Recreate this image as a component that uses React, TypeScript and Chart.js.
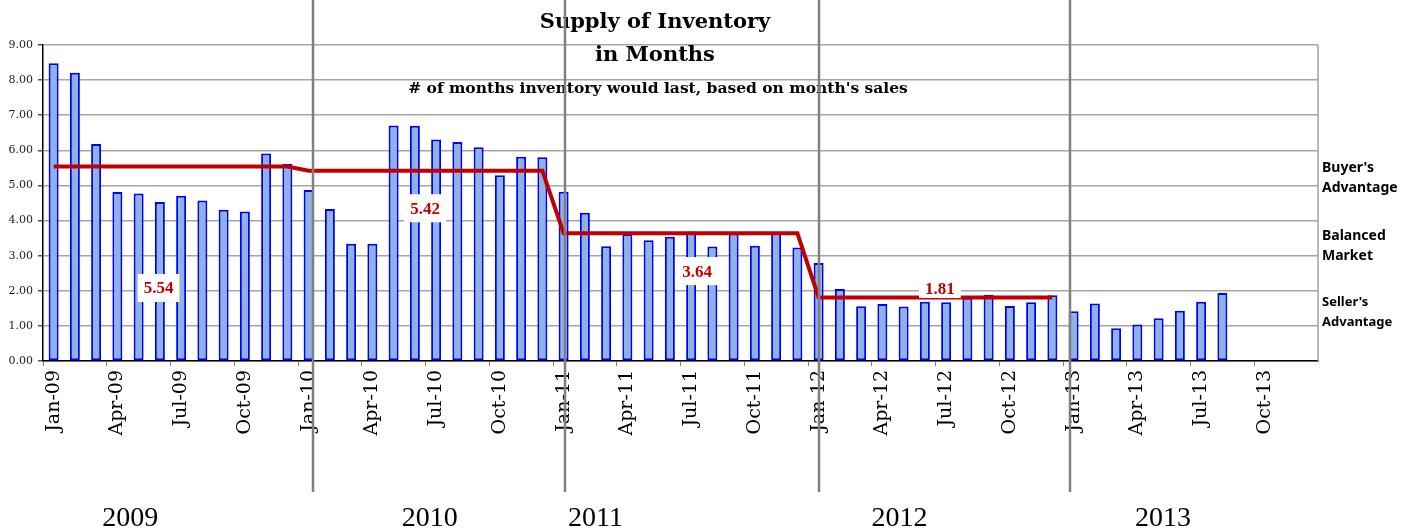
import React, { useEffect, useRef } from 'react';
import { Chart, registerables } from 'chart.js';

Chart.register(...registerables);

// ---------- data ----------
const categories = [
  'Jan-09', 'Feb-09', 'Mar-09', 'Apr-09', 'May-09', 'Jun-09', 'Jul-09', 'Aug-09', 'Sep-09', 'Oct-09', 'Nov-09', 'Dec-09',
  'Jan-10', 'Feb-10', 'Mar-10', 'Apr-10', 'May-10', 'Jun-10', 'Jul-10', 'Aug-10', 'Sep-10', 'Oct-10', 'Nov-10', 'Dec-10',
  'Jan-11', 'Feb-11', 'Mar-11', 'Apr-11', 'May-11', 'Jun-11', 'Jul-11', 'Aug-11', 'Sep-11', 'Oct-11', 'Nov-11', 'Dec-11',
  'Jan-12', 'Feb-12', 'Mar-12', 'Apr-12', 'May-12', 'Jun-12', 'Jul-12', 'Aug-12', 'Sep-12', 'Oct-12', 'Nov-12', 'Dec-12',
  'Jan-13', 'Feb-13', 'Mar-13', 'Apr-13', 'May-13', 'Jun-13', 'Jul-13', 'Aug-13', 'Sep-13', 'Oct-13', 'Nov-13', 'Dec-13',
];

const monthsOfInventory: (number | null)[] = [
  8.48, 8.21, 6.18, 4.81, 4.77, 4.53, 4.71, 4.57, 4.31, 4.26, 5.91, 5.61,
  4.87, 4.33, 3.34, 3.34, 6.71, 6.70, 6.31, 6.24, 6.09, 5.29, 5.82, 5.80,
  4.82, 4.22, 3.27, 3.62, 3.44, 3.54, 3.69, 3.26, 3.63, 3.28, 3.64, 3.23,
  2.79, 2.05, 1.56, 1.62, 1.55, 1.69, 1.67, 1.80, 1.89, 1.57, 1.67, 1.87,
  1.42, 1.64, 0.93, 1.04, 1.22, 1.43, 1.69, 1.94, null, null, null, null,
];

const yearlyAverage: (number | null)[] = [
  5.54, 5.54, 5.54, 5.54, 5.54, 5.54, 5.54, 5.54, 5.54, 5.54, 5.54, 5.54,
  5.42, 5.42, 5.42, 5.42, 5.42, 5.42, 5.42, 5.42, 5.42, 5.42, 5.42, 5.42,
  3.64, 3.64, 3.64, 3.64, 3.64, 3.64, 3.64, 3.64, 3.64, 3.64, 3.64, 3.64,
  1.81, 1.81, 1.81, 1.81, 1.81, 1.81, 1.81, 1.81, 1.81, 1.81, 1.81, 1.81,
  null, null, null, null, null, null, null, null, null, null, null, null,
];

const averageValues = [5.54, 5.42, 3.64, 1.81];
// where each average label sits (category position, value level)
const averageLabelAt = [4.94, 17.48, 30.28, 41.71];
const averageLabelLevel = [2.08, 4.35, 2.56, 2.05];
const averageLabelBoxH = [28, 28, 28, 18];

const yearNames = ['2009', '2010', '2011', '2012', '2013'];
const yearNameAt = [3.6, 17.7, 25.5, 39.8, 52.2];
const yearDividerAt = [12.2, 24.05, 36.0, 47.85];

const sideNotes = [
  { lines: ["Buyer's", 'Advantage'], level: 5.39, size: 14 },
  { lines: ['Balanced', 'Market'], level: 3.45, size: 14 },
  { lines: ["Seller's", 'Advantage'], level: 1.56, size: 13 },
];

const titleLines = ['Supply of Inventory', 'in Months'];
const subtitle = "# of months inventory would last, based on month's sales";

const W = 1416;
const H = 529;

const decorPlugin = {
  id: 'sheetDecor',
  afterDatasetsDraw(chart: any) {
    const { ctx, scales } = chart;
    const x = scales.x;
    const y = scales.y;
    ctx.save();
    ctx.font = 'bold 17px "Liberation Serif", serif';
    ctx.textAlign = 'center';
    ctx.textBaseline = 'middle';
    averageValues.forEach((v, i) => {
      const px = x.getPixelForValue(averageLabelAt[i]);
      const py = y.getPixelForValue(averageLabelLevel[i]);
      const txt = v.toFixed(2);
      const tw = ctx.measureText(txt).width;
      const bw = tw + 12;
      const bh = averageLabelBoxH[i];
      ctx.fillStyle = '#ffffff';
      ctx.fillRect(px - bw / 2, py - bh / 2, bw, bh);
      ctx.fillStyle = '#C00000';
      ctx.fillText(txt, px, py + 1);
    });
    ctx.restore();
  },
  afterDraw(chart: any) {
    const { ctx, chartArea, scales } = chart;
    const x = scales.x;
    const y = scales.y;
    ctx.save();

    // right plot border
    ctx.strokeStyle = '#a0a0a0';
    ctx.lineWidth = 1.5;
    ctx.beginPath();
    ctx.moveTo(chartArea.right, chartArea.top);
    ctx.lineTo(chartArea.right, chartArea.bottom);
    ctx.stroke();

    // titles (centred over the middle of the 2010/2011 span)
    const cx = x.getPixelForValue(28.3);
    ctx.fillStyle = '#000';
    ctx.textAlign = 'center';
    ctx.textBaseline = 'alphabetic';
    ctx.font = 'bold 21px "DejaVu Serif", serif';
    ctx.fillText(titleLines[0], cx, 28);
    ctx.fillText(titleLines[1], cx, 61);
    ctx.font = 'bold 15.5px "DejaVu Serif", serif';
    ctx.fillText(subtitle, cx + 3, 93);

    // side notes
    ctx.textAlign = 'left';
    sideNotes.forEach((n) => {
      ctx.font = `bold ${n.size}px "Noto Sans", sans-serif`;
      const py = y.getPixelForValue(n.level);
      n.lines.forEach((l, j) => {
        ctx.fillText(l, chartArea.right + 4, py + j * 20);
      });
    });

    // year labels
    ctx.textAlign = 'center';
    ctx.font = '28px "Liberation Serif", serif';
    yearNames.forEach((name, i) => {
      ctx.fillText(name, x.getPixelForValue(yearNameAt[i]), 526);
    });

    // year dividers
    ctx.strokeStyle = '#808080';
    ctx.lineWidth = 2.5;
    yearDividerAt.forEach((p) => {
      const px = Math.round(x.getPixelForValue(p));
      ctx.beginPath();
      ctx.moveTo(px, 0);
      ctx.lineTo(px, 492);
      ctx.stroke();
    });
    ctx.restore();
  },
};

export default function App() {
  const canvasRef = useRef<HTMLCanvasElement | null>(null);

  useEffect(() => {
    const canvas = canvasRef.current;
    if (!canvas) return;
    const chart = new Chart(canvas, {
      type: 'bar',
      data: {
        labels: categories,
        datasets: [
          {
            type: 'line',
            label: 'Yearly average',
            data: yearlyAverage,
            borderColor: '#C00000',
            borderWidth: 4,
            pointRadius: 0,
            tension: 0,
            spanGaps: false,
            order: 0,
          } as any,
          {
            type: 'bar',
            label: 'Months of inventory',
            data: monthsOfInventory,
            backgroundColor: '#8DB3E2',
            borderColor: '#0000FF',
            borderWidth: 2,
            borderSkipped: false,
            barPercentage: 0.47,
            categoryPercentage: 1,
            order: 1,
          } as any,
        ],
      },
      options: {
        animation: false,
        responsive: false,
        devicePixelRatio: 1,
        layout: { padding: { top: 45, left: 0, right: 98, bottom: 0 } },
        plugins: {
          legend: { display: false },
          tooltip: { enabled: false },
          title: { display: false },
        },
        scales: {
          x: {
            offset: true,
            grid: {
              offset: true,
              drawOnChartArea: false,
              drawTicks: true,
              tickLength: 5,
              color: (c: any) => (c.index % 3 === 0 ? '#808080' : 'rgba(0,0,0,0)'),
            },
            border: { display: true, color: '#000', width: 1.5 },
            ticks: {
              autoSkip: false,
              minRotation: 90,
              maxRotation: 90,
              padding: 4,
              color: '#000',
              font: { family: '"DejaVu Serif", serif', size: 19 },
              callback: (_v: any, i: number) => (i % 3 === 0 ? categories[i] : ''),
            },
            afterFit: (s: any) => {
              s.height = H - 361;
            },
          },
          y: {
            min: 0,
            max: 9,
            grid: {
              color: '#a6a6a6',
              lineWidth: 1.5,
              tickLength: 5,
              tickColor: '#555',
            },
            border: { display: true, color: '#000', width: 1.5 },
            ticks: {
              stepSize: 1,
              padding: 5,
              color: '#222',
              font: { family: '"DejaVu Serif", serif', size: 11 },
              callback: (v: any) => Number(v).toFixed(2),
            },
            afterFit: (s: any) => {
              s.width = 43;
            },
          },
        },
      },
      plugins: [decorPlugin],
    });
    return () => chart.destroy();
  }, []);

  return (
    <div style={{ position: 'absolute', left: 0, top: 0, width: W, height: H, overflow: 'hidden', background: '#fff' }}>
      <canvas ref={canvasRef} width={W} height={H} style={{ width: W, height: H, display: 'block' }} />
    </div>
  );
}
